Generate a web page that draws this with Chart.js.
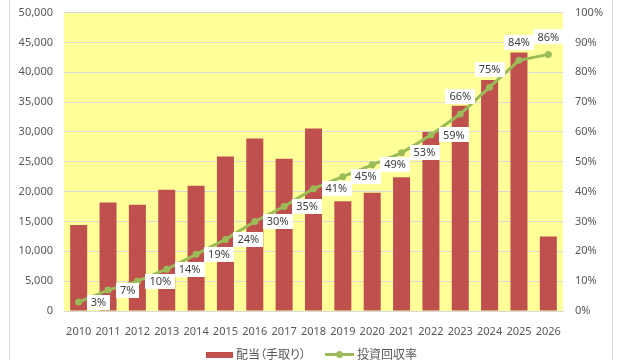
<!DOCTYPE html>
<html>
<head>
<meta charset="utf-8">
<script src="https://cdn.jsdelivr.net/npm/chart.js@4"></script>
<style>
  html, body { margin: 0; padding: 0; background: #fff; overflow: hidden; }
  #wrap { position: relative; width: 640px; height: 360px; overflow: hidden; }
  canvas { position: absolute; left: 0; top: -6px; }
  .leg { position: absolute; top: 345px; height: 18px; font-family: "Noto Sans CJK JP", sans-serif; font-size: 12px; color: #595959; line-height: 18px; font-feature-settings: "palt"; white-space: nowrap; }
  .sw-bar { position: absolute; width: 27px; height: 6px; background: #C0504D; top: 352px; }
  .sw-line { position: absolute; width: 29px; height: 3px; background: #9BBB59; top: 353px; }
  .sw-dot { position: absolute; width: 7px; height: 7px; border-radius: 50%; background: #9BBB59; top: 351px; }
</style>
</head>
<body>
<div id="wrap">
  <canvas id="c" width="640" height="366"></canvas>
  <div class="sw-bar" style="left:206px"></div>
  <div class="leg" style="left:236px">配当（手取り）</div>
  <div class="sw-line" style="left:325px"></div>
  <div class="sw-dot" style="left:336px"></div>
  <div class="leg" style="left:357px">投資回収率</div>
</div>
<script>
const categories = ["2010","2011","2012","2013","2014","2015","2016","2017","2018","2019","2020","2021","2022","2023","2024","2025","2026"];
const dividends = [14400,18200,17800,20300,21000,25900,28900,25500,30600,18400,19800,22400,30000,34400,38700,43300,12500];
const recoveryRate = [3,7,10,14,19,24,30,35,41,45,49,53,59,66,75,84,86];
const aboveFrom = 13;

const bgPlugin = {
  id: 'bg',
  beforeDraw(chart) {
    const {ctx, chartArea: a} = chart;
    ctx.save();
    ctx.fillStyle = '#FFFF99';
    ctx.fillRect(a.left, a.top, a.right - a.left, a.bottom - a.top);
    ctx.strokeStyle = '#D9D9D9';
    ctx.lineWidth = 1;
    ctx.beginPath();
    ctx.moveTo(9.5, 0); ctx.lineTo(9.5, 366);
    ctx.moveTo(612.5, 0); ctx.lineTo(612.5, 366);
    ctx.stroke();
    ctx.restore();
  }
};

const labelPlugin = {
  id: 'lbl',
  afterDatasetsDraw(chart) {
    const {ctx} = chart;
    const meta = chart.getDatasetMeta(1);
    ctx.save();
    ctx.font = '11px "Noto Sans", sans-serif';
    ctx.textBaseline = 'middle';
    ctx.textAlign = 'center';
    meta.data.forEach((pt, i) => {
      const txt = recoveryRate[i] + '%';
      const tw = ctx.measureText(txt).width;
      const w = tw + 8, h = 15;
      let cx, cy;
      if (i < aboveFrom) { cx = pt.x + 8 + w / 2; cy = pt.y; }
      else { cx = pt.x; cy = pt.y - 10 - h / 2; }
      ctx.fillStyle = '#FFFFFF';
      ctx.fillRect(Math.round(cx - w / 2), Math.round(cy - h / 2), Math.round(w), h);
      ctx.fillStyle = '#404040';
      ctx.fillText(txt, cx, cy + 0.5);
    });
    ctx.restore();
  }
};

const tickFont = { family: '"Noto Sans", sans-serif', size: 11 };

new Chart(document.getElementById('c'), {
  type: 'bar',
  data: {
    labels: categories,
    datasets: [
      {
        type: 'bar', label: '配当（手取り）', data: dividends,
        backgroundColor: '#C0504D', borderWidth: 0,
        barPercentage: 0.58, categoryPercentage: 1.0,
        yAxisID: 'y', order: 1
      },
      {
        type: 'line', label: '投資回収率', data: recoveryRate,
        borderColor: '#9BBB59', backgroundColor: '#9BBB59',
        borderWidth: 3, pointRadius: 3.5, pointBackgroundColor: '#9BBB59',
        pointBorderWidth: 0, tension: 0, yAxisID: 'y1', order: 0
      }
    ]
  },
  options: {
    responsive: false, animation: false,
    layout: { padding: { top: 6, left: 0, right: 0, bottom: 0 } },
    plugins: { legend: { display: false }, tooltip: { enabled: false } },
    scales: {
      x: {
        grid: { display: false },
        border: { color: '#D9D9D9' },
        ticks: { color: '#595959', font: tickFont, padding: 6, maxRotation: 0 },
        afterFit(s) { s.height = 49; }
      },
      y: {
        position: 'left', min: 0, max: 50000,
        grid: { color: '#D9D9D9', drawTicks: false },
        border: { display: false },
        ticks: { stepSize: 5000, color: '#595959', font: tickFont, padding: 11,
          callback: v => v.toLocaleString('en-US') },
        afterFit(s) { s.width = 64; }
      },
      y1: {
        position: 'right', min: 0, max: 100,
        grid: { display: false, drawTicks: false },
        border: { display: false },
        ticks: { stepSize: 10, color: '#595959', font: tickFont, padding: 12,
          callback: v => v + '%' },
        afterFit(s) { s.width = 77; }
      }
    }
  },
  plugins: [bgPlugin, labelPlugin]
});
</script>
</body>
</html>
